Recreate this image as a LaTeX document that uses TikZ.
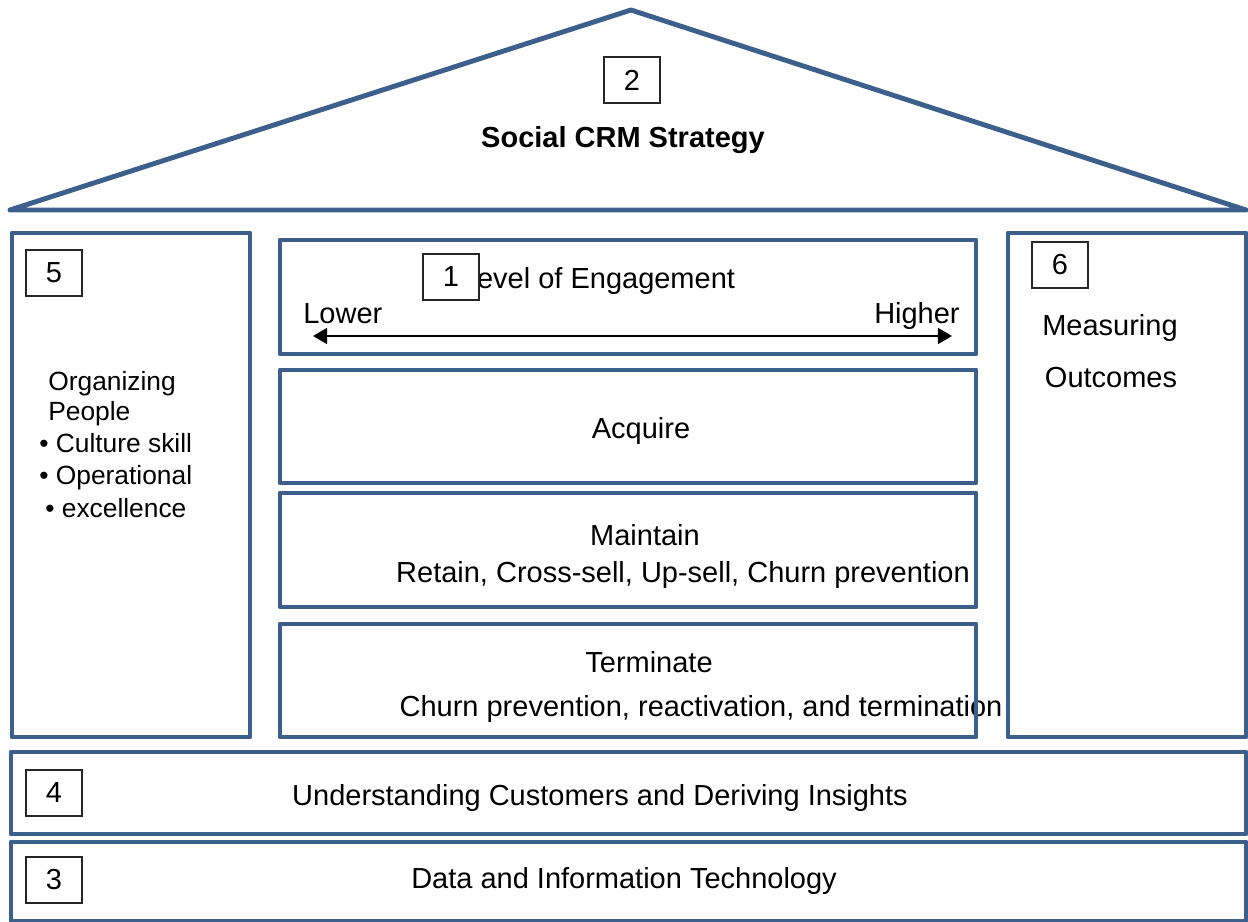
\documentclass[tikz,border=0pt]{standalone}
\usepackage{fontspec}
\setmainfont{Liberation Sans}
\usetikzlibrary{positioning, arrows.meta}
\definecolor{housebl}{RGB}{60,95,140}

\begin{document}
\begin{tikzpicture}[x=0.02cm, y=-0.02cm, font=\fontsize{16.5}{19}\selectfont]

        % Styles
        \tikzstyle{wall} = [draw=housebl, line width=2.8pt, line join=round]
        \tikzstyle{numbox} = [draw=black!85, line width=0.6pt, fill=white, minimum width=1.12cm, minimum height=0.92cm, inner sep=0pt]
        \tikzstyle{txt} = [inner sep=0pt]
        \tikzstyle{pillartxt} = [inner sep=0pt, anchor=base west, font=\fontsize{15}{18}\selectfont]
        \tikzstyle{twohead} = [{Triangle[length=8pt,width=9pt]}-{Triangle[length=8pt,width=9pt]}, line width=1.4pt]

        \useasboundingbox (0,0) rectangle (1248,922);

        % --- ROOF: STRATEGY ---
        \draw[wall] (10,210) -- (631,10) -- (1246,210) -- cycle;
        \node[numbox] (n2) at (632,80) {2};
        \node[txt, font=\fontsize{16.5}{19}\selectfont\bfseries] (strategy) at (623,140) {Social CRM Strategy};

        % --- LEFT PILLAR: PEOPLE ---
        \draw[wall] (12,233) rectangle (250,737);
        \node[numbox] (n5) at (54,273) {5};
        \node[pillartxt] (organizing) at (48,390) {Organizing};
        \node[pillartxt] (people) at (48,420) {People};
        \node[pillartxt] (culture) at (39,452) {\textbullet\ Culture skill};
        \node[pillartxt] (operational) at (39,484) {\textbullet\ Operational};
        \node[pillartxt] (excellence) at (45,517) {\textbullet\ excellence};

        % --- CENTER: ENGAGEMENT SCALE ---
        \draw[wall] (280,240) rectangle (976,354);
        \node[txt] (level) at (598,281) {Level of Engagement};
        \node[numbox] (n1) at (451,277) {1}; % sits on top of the L
        \node[txt, anchor=base west] (lower) at (303,323) {Lower};
        \node[txt, anchor=base east] (higher) at (960,323) {Higher};
        \coordinate (lowend) at (313,336);
        \coordinate (highend) at (952,336);
        \draw[twohead] (lowend) -- (highend);

        % Lifecycle stages
        \draw[wall] (280,370) rectangle (976,483);
        \node[txt] (acquire) at (641,431) {Acquire};

        \draw[wall] (280,493) rectangle (976,607);
        \node[txt] (maintain) at (645,535) {Maintain};
        \node[txt] (retain) at (683,575) {Retain, Cross-sell, Up-sell, Churn prevention};

        \node[txt] (terminate) at (649,662) {Terminate};
        \node[txt] (churn) at (701,709) {Churn prevention, reactivation, and termination};
        \draw[wall] (280,624) rectangle (976,737); % border runs over the text

        % --- RIGHT PILLAR: OUTCOMES ---
        \draw[wall] (1008,233) rectangle (1246,737);
        \node[numbox] (n6) at (1060,265) {6};
        \node[txt] (measuring) at (1110,328) {Measuring};
        \node[txt] (outcomes) at (1111,378) {Outcomes};

        % --- FOUNDATION ---
        \draw[wall] (11,752) rectangle (1246,834);
        \node[numbox] (n4) at (54,793) {4};
        \node[txt] (insights) at (600,798) {Understanding Customers and Deriving Insights};

        \draw[wall] (11,842) rectangle (1246,921);
        \node[numbox] (n3) at (54,880) {3};
        \node[txt] (datait) at (624,881) {Data and Information Technology};

    \end{tikzpicture}
\end{document}
